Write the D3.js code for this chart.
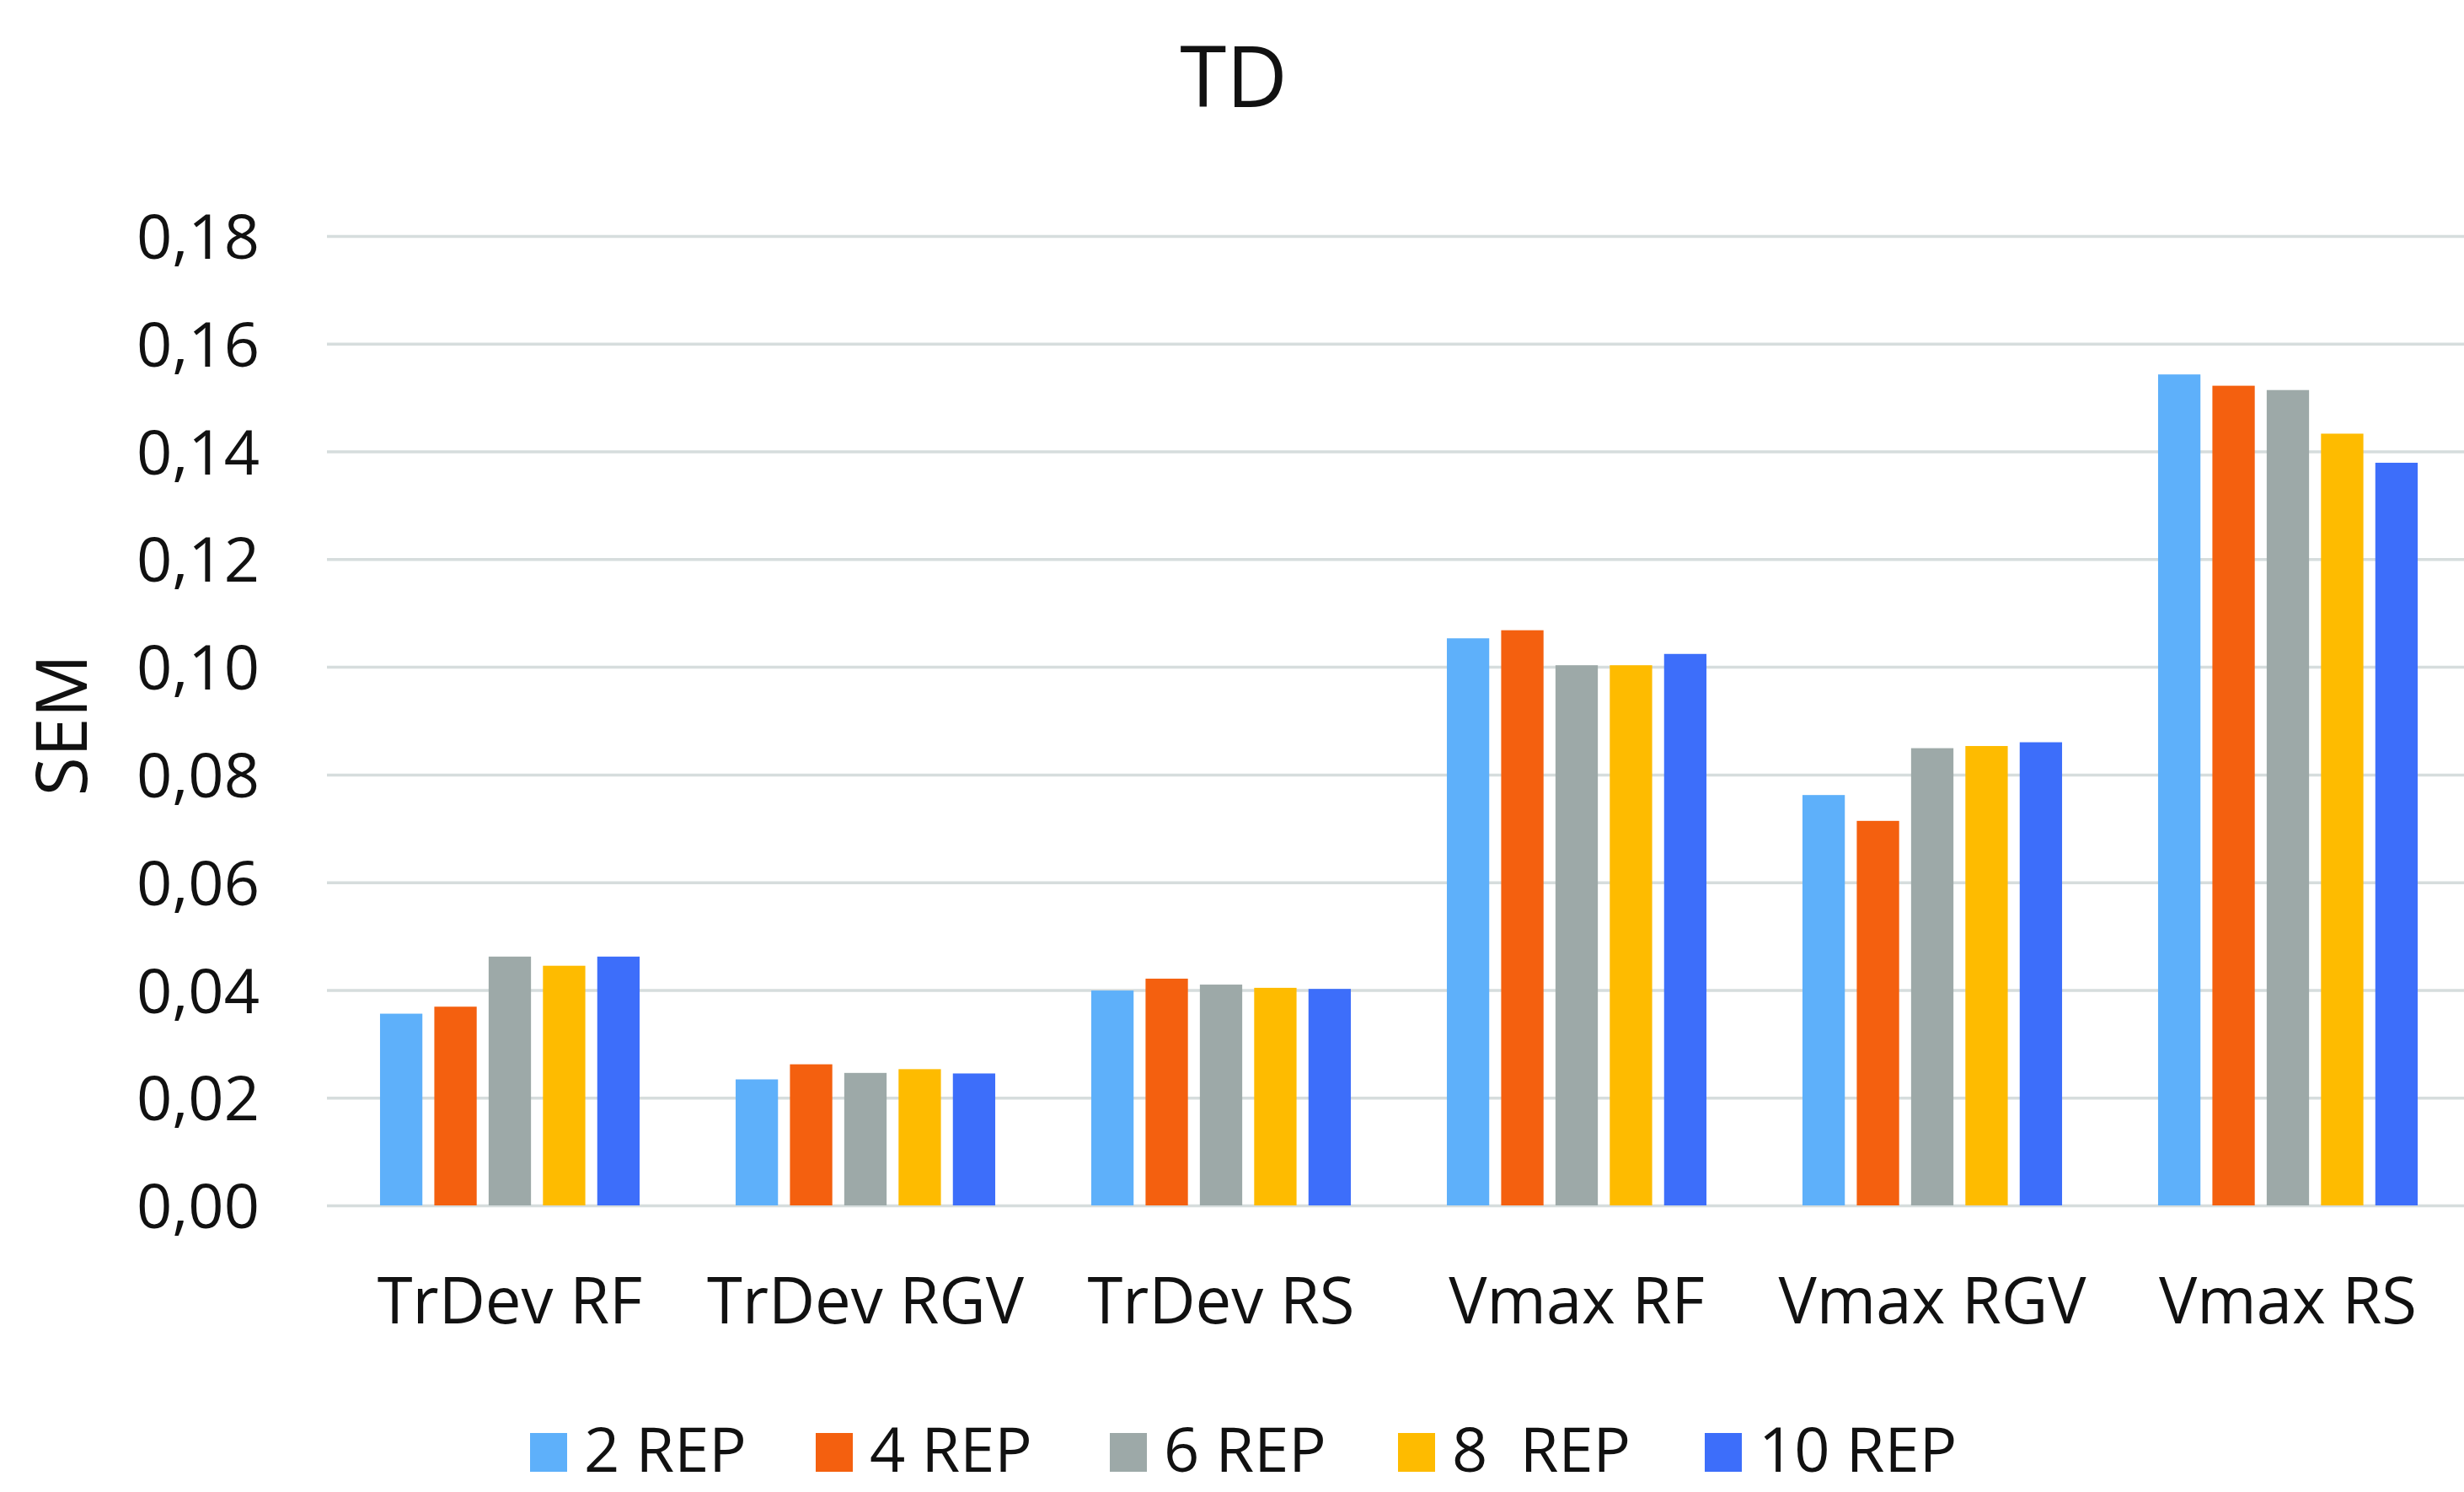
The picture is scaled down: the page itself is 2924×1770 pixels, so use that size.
<!DOCTYPE html>
<html><head><meta charset="utf-8">
<script src="https://cdn.jsdelivr.net/npm/d3@7"></script>
<style>body{margin:0;background:#fff}svg{display:block}text{font-family:"Open Sans",sans-serif;fill:#111}</style>
</head><body>
<script>
const categories = ["TrDev RF","TrDev RGV","TrDev RS","Vmax RF","Vmax RGV","Vmax RS"];
const seriesNames = ["2 REP","4 REP","6 REP","8  REP","10 REP"];
const rep2  = [0.0356,0.0234,0.0399,0.1053,0.0762,0.1543];
const rep4  = [0.0369,0.0262,0.0421,0.1068,0.0714,0.1522];
const rep6  = [0.0462,0.0246,0.0410,0.1003,0.0849,0.1514];
const rep8  = [0.0445,0.0253,0.0404,0.1003,0.0853,0.1433];
const rep10 = [0.0462,0.0245,0.0402,0.1024,0.0860,0.1379];
const seriesValues = [rep2,rep4,rep6,rep8,rep10];
const colors = ["#5eb0fa","#f4600f","#9da9a8","#febb00","#3d6efa"];
const yTicks = [0,0.02,0.04,0.06,0.08,0.10,0.12,0.14,0.16,0.18];

const W=2924,H=1770;
const svg=d3.select("body").append("svg").attr("width",W).attr("height",H);
const y=d3.scaleLinear().domain([0,0.18]).range([1430,280]);
const x0=d3.scaleBand().domain(categories).range([394,2926]).paddingInner(0.27).paddingOuter(0.135);
const x1=d3.scaleBand().domain(seriesNames).range([0,x0.bandwidth()]).paddingInner(0.22);

// gridlines
const yAxis=d3.axisLeft(y).tickValues(yTicks).tickSize(-(2924-388)).tickPadding(80)
  .tickFormat(d=>d3.format(".2f")(d).replace(".",","));
const gy=svg.append("g").attr("transform","translate(388,0)").call(yAxis);
gy.select(".domain").remove();
gy.selectAll(".tick line").attr("stroke","#d6dddd").attr("stroke-width",3.5);
gy.selectAll(".tick text").attr("font-size",74).attr("x",-80).attr("dy","0.36em").style("fill","#111");

// bars
const data=categories.map((c,i)=>({c,vals:seriesNames.map((s,j)=>({s,j,v:seriesValues[j][i]}))}));
const g=svg.append("g").selectAll("g").data(data).join("g").attr("transform",d=>`translate(${x0(d.c)},0)`);
g.selectAll("rect").data(d=>d.vals).join("rect")
  .attr("x",d=>x1(d.s)).attr("width",x1.bandwidth())
  .attr("y",d=>y(d.v)).attr("height",d=>y(0)-y(d.v)).attr("fill",d=>colors[d.j]);

// x labels
const xAxis=d3.axisBottom(x0).tickSize(0).tickPadding(0);
const gx=svg.append("g").attr("transform","translate(0,1570)").call(xAxis);
gx.select(".domain").remove();
gx.selectAll(".tick text").attr("font-size",76).attr("dy",0).attr("y",0).style("fill","#111");

// title
svg.append("text").attr("x",1464).attr("y",127).attr("text-anchor","middle").attr("font-size",100).text("TD");
// y label
svg.append("text").attr("transform","translate(103,860) rotate(-90)").attr("text-anchor","middle").attr("font-size",84).text("SEM");

// legend
const legX=[629,968,1317,1659,2023];
const lg=svg.append("g").selectAll("g").data(seriesNames).join("g").attr("transform",(d,i)=>`translate(${legX[i]},1746)`);
lg.append("rect").attr("x",0).attr("y",-46).attr("width",44).attr("height",46).attr("fill",(d,i)=>colors[i]);
lg.append("text").attr("x",64).attr("y",0).attr("font-size",74).style("white-space","pre").attr("xml:space","preserve").text(d=>d);
</script>
</body></html>
